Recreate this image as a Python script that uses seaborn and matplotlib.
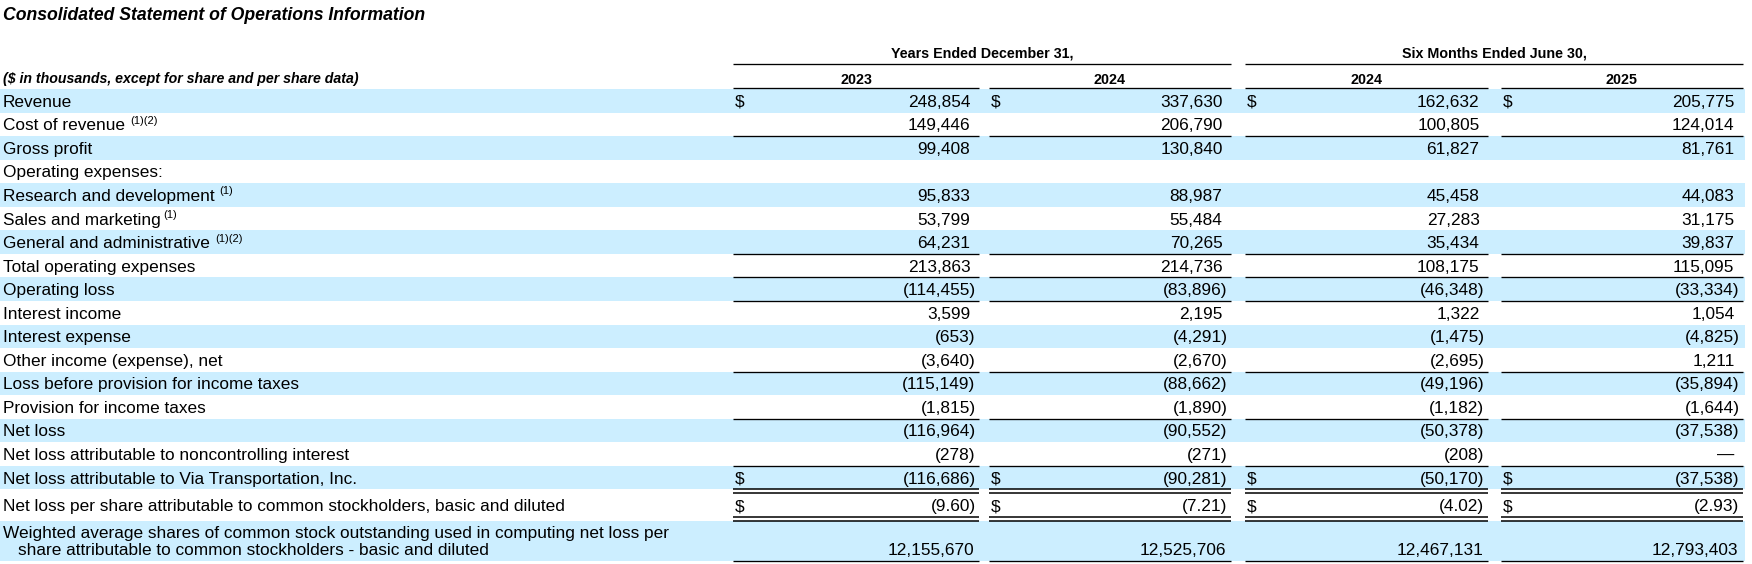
import matplotlib
matplotlib.use("Agg")
import matplotlib.pyplot as plt
from matplotlib.patches import Rectangle
import seaborn as sns

# ---------------- data ----------------
title = "Consolidated Statement of Operations Information"
units_note = "($ in thousands, except for share and per share data)"
period_groups = ["Years Ended December 31,", "Six Months Ended June 30,"]
column_years = ["2023", "2024", "2024", "2025"]

row_labels = [
    "Revenue",
    "Cost of revenue",
    "Gross profit",
    "Operating expenses:",
    "Research and development",
    "Sales and marketing",
    "General and administrative",
    "Total operating expenses",
    "Operating loss",
    "Interest income",
    "Interest expense",
    "Other income (expense), net",
    "Loss before provision for income taxes",
    "Provision for income taxes",
    "Net loss",
    "Net loss attributable to noncontrolling interest",
    "Net loss attributable to Via Transportation, Inc.",
    "Net loss per share attributable to common stockholders, basic and diluted",
    "Weighted average shares of common stock outstanding used in computing net loss per",
]
label_continuation = "share attributable to common stockholders - basic and diluted"
row_notes = ["", "(1)(2)", "", "", "(1)", "(1)", "(1)(2)", "", "", "", "", "", "",
             "", "", "", "", "", ""]

fy2023 = [248854, 149446, 99408, None, 95833, 53799, 64231, 213863, -114455, 3599,
          -653, -3640, -115149, -1815, -116964, -278, -116686, -9.60, 12155670]
fy2024 = [337630, 206790, 130840, None, 88987, 55484, 70265, 214736, -83896, 2195,
          -4291, -2670, -88662, -1890, -90552, -271, -90281, -7.21, 12525706]
h2024 = [162632, 100805, 61827, None, 45458, 27283, 35434, 108175, -46348, 1322,
         -1475, -2695, -49196, -1182, -50378, -208, -50170, -4.02, 12467131]
h2025 = [205775, 124014, 81761, None, 44083, 31175, 39837, 115095, -33334, 1054,
         -4825, 1211, -35894, -1644, -37538, 0, -37538, -2.93, 12793403]
columns = [fy2023, fy2024, h2024, h2025]

dollar_rows = [0, 16, 17]
single_rule_rows = [1, 6, 7, 8, 11, 13, 15, 18]
double_rule_rows = [16, 17]
per_share_rows = [17]
share_count_rows = [18]

# ---------------- style ----------------
sns.set_theme(style="white")
plt.rcParams["font.family"] = ["Liberation Sans", "DejaVu Sans"]

BAND = "#cceeff"
BODY = 12.4
HEAD = 10.25
SUP = 8.0

W, H = 1752, 564
fig = plt.figure(figsize=(W / 100, H / 100), dpi=100)
ax = fig.add_axes([0, 0, 1, 1])
ax.set_xlim(0, W)
ax.set_ylim(H, 0)
ax.axis("off")
sns.despine(ax=ax, left=True, bottom=True)
renderer = fig.canvas.get_renderer()

col_left = [733, 989, 1245, 1501]
col_right = [979, 1231, 1488, 1743]
band_right = 1745
sup_gap = {5: 2.5}

# row geometry
row_top, row_h = [], []
for i in range(17):
    row_top.append(89 + 23.55 * i)
    row_h.append(23.55)
row_top.append(493.0); row_h.append(24.3)
row_top.append(520.7); row_h.append(40.5)


def fmt(v, per_share=False):
    if v is None:
        return ""
    if v == 0:
        return "\u2014"
    s = f"{abs(v):,.2f}" if per_share else f"{abs(v):,.0f}"
    return f"({s})" if v < 0 else s


# title and headers
ax.text(3, 19.5, title, fontsize=12.7, fontweight="bold", fontstyle="italic",
        ha="left", va="baseline", color="black")
ax.text(3, 82.5, units_note, fontsize=10.2, fontweight="bold", fontstyle="italic",
        ha="left", va="baseline", color="black")
for g, name in enumerate(period_groups):
    l, r = col_left[2 * g], col_right[2 * g + 1]
    ax.text((l + r) / 2, 57.5, name, fontsize=HEAD, fontweight="bold",
            ha="center", va="baseline", color="black")
    ax.plot([l, r], [63.5, 63.5], color="black", lw=0.95, solid_capstyle="butt")
for c, yr in enumerate(column_years):
    ax.text((col_left[c] + col_right[c]) / 2, 84, yr, fontsize=HEAD, fontweight="bold",
            ha="center", va="baseline", color="black")
    ax.plot([col_left[c], col_right[c]], [88, 88], color="black", lw=0.95,
            solid_capstyle="butt")

# bands
for i in range(len(row_labels)):
    if i % 2 == 0:
        ax.add_patch(Rectangle((0, row_top[i]), band_right, row_h[i],
                               facecolor=BAND, edgecolor="none", zorder=0))

# labels
for i, lab in enumerate(row_labels):
    if i in share_count_rows:
        base = row_top[i] + 17.5
    else:
        base = row_top[i] + row_h[i] / 2 + 6
    t = ax.text(3, base, lab, fontsize=BODY, ha="left", va="baseline", color="black")
    if row_notes[i]:
        bb = t.get_window_extent(renderer)
        ax.text(bb.x1 + sup_gap.get(i, 5.0), base - 6.5, row_notes[i], fontsize=SUP,
                ha="left", va="baseline", color="black")
    if i in share_count_rows:
        ax.text(18, base + 17, label_continuation, fontsize=BODY, ha="left",
                va="baseline", color="black")

# cut-off footnote marker of the next (hidden) row
ax.text(473, 571.5, "(2)", fontsize=SUP, ha="left", va="baseline", color="black")

# values
for c, vals in enumerate(columns):
    pr = col_right[c] - 3.5
    for i, v in enumerate(vals):
        if v is None:
            continue
        if i in share_count_rows:
            base = row_top[i] + 17.5 + 17
        else:
            base = row_top[i] + row_h[i] / 2 + 6
        s = fmt(v, per_share=i in per_share_rows)
        if i in share_count_rows:
            x = pr - 1.5
        elif v < 0:
            x = pr
        else:
            x = pr - 5
        ax.text(x, base, s, fontsize=BODY, ha="right", va="baseline", color="black")
        if i in dollar_rows:
            ax.text(col_left[c] + 2, base, "$", fontsize=BODY, ha="left",
                    va="baseline", color="black")

# rules
for c in range(4):
    l, r = col_left[c], col_right[c]
    for i in single_rule_rows:
        y = row_top[i] + row_h[i]
        if i == 18:
            y = 561
        ax.plot([l, r], [y, y], color="black", lw=0.95, solid_capstyle="butt")
    for i in double_rule_rows:
        y = row_top[i] + row_h[i]
        if i == 17:
            y = 517.3
        ax.plot([l, r], [y, y], color="black", lw=1.1, solid_capstyle="butt")
        ax.plot([l, r], [y + 3.4, y + 3.4], color="black", lw=1.1, solid_capstyle="butt")

fig.savefig("out.png", dpi=100, facecolor="white")
